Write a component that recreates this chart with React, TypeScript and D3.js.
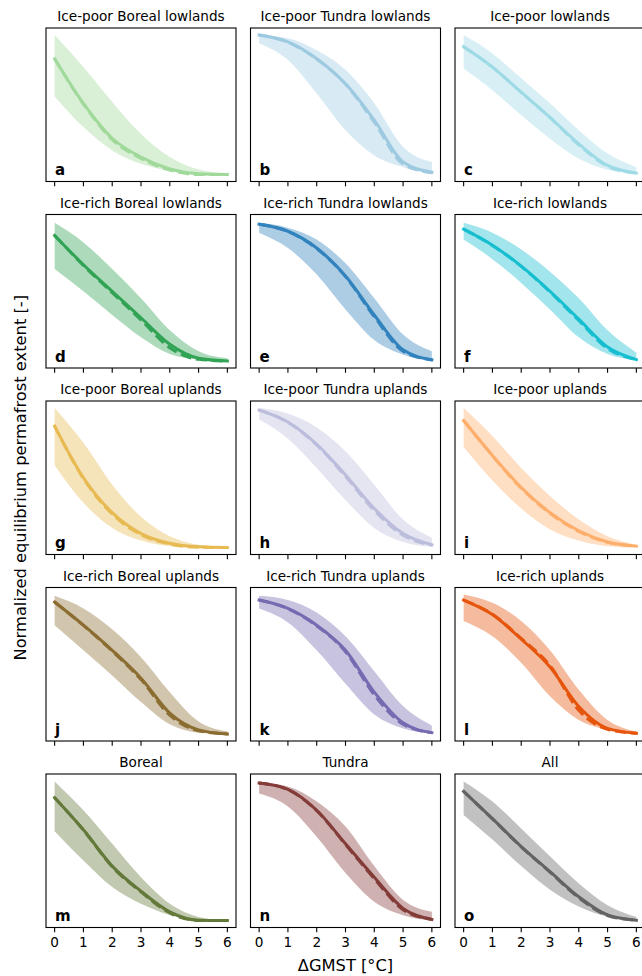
import React from "react";
import * as d3 from "d3";

const titles = [
  "Ice-poor Boreal lowlands", "Ice-poor Tundra lowlands", "Ice-poor lowlands",
  "Ice-rich Boreal lowlands", "Ice-rich Tundra lowlands", "Ice-rich lowlands",
  "Ice-poor Boreal uplands", "Ice-poor Tundra uplands", "Ice-poor uplands",
  "Ice-rich Boreal uplands", "Ice-rich Tundra uplands", "Ice-rich uplands",
  "Boreal", "Tundra", "All",
];
const letters = ["a", "b", "c", "d", "e", "f", "g", "h", "i", "j", "k", "l", "m", "n", "o"];
const colors = [
  "#a1d99b", "#9ecae1", "#9edae5",
  "#31a354", "#3182bd", "#17becf",
  "#e7ba52", "#bcbddc", "#fdae6b",
  "#8c6d31", "#756bb1", "#e6550d",
  "#637939", "#843c39", "#636363",
];
const xValues = [0, 1, 2, 3, 4, 5, 6];
const xTicks = [0, 1, 2, 3, 4, 5, 6];

const meanValues = [
  [0.83, 0.51, 0.26, 0.125, 0.04, 0.005, 0.0],
  [1.0, 0.95, 0.83, 0.65, 0.39, 0.09, 0.017],
  [0.916, 0.77, 0.59, 0.41, 0.22, 0.065, 0.01],
  [0.9, 0.69, 0.5, 0.31, 0.12, 0.02, 0.0],
  [0.98, 0.93, 0.81, 0.61, 0.33, 0.08, 0.009],
  [0.945, 0.83, 0.68, 0.5, 0.3, 0.1, 0.01],
  [0.87, 0.5, 0.25, 0.1, 0.03, 0.005, 0.0],
  [0.985, 0.9, 0.74, 0.52, 0.28, 0.1, 0.02],
  [0.91, 0.66, 0.43, 0.25, 0.12, 0.04, 0.01],
  [0.946, 0.78, 0.6, 0.4, 0.15, 0.03, 0.0],
  [0.96, 0.9, 0.78, 0.6, 0.3, 0.08, 0.01],
  [0.96, 0.856, 0.68, 0.48, 0.197, 0.04, 0.005],
  [0.88, 0.65, 0.39, 0.21, 0.062, 0.002, 0.0],
  [0.985, 0.94, 0.79, 0.55, 0.31, 0.087, 0.008],
  [0.925, 0.73, 0.53, 0.35, 0.17, 0.04, 0.002],
];
const dashedValues = [
  [0.83, 0.505, 0.25, 0.115, 0.032, 0.0, 0.0],
  [1.0, 0.948, 0.828, 0.648, 0.375, 0.075, 0.013],
  [0.916, 0.77, 0.588, 0.408, 0.212, 0.06, 0.01],
  [0.9, 0.685, 0.49, 0.295, 0.095, 0.012, 0.0],
  [0.98, 0.928, 0.805, 0.605, 0.318, 0.07, 0.008],
  [0.945, 0.828, 0.678, 0.495, 0.29, 0.09, 0.01],
  [0.87, 0.495, 0.24, 0.092, 0.024, 0.002, 0.0],
  [0.985, 0.897, 0.735, 0.51, 0.265, 0.088, 0.017],
  [0.91, 0.658, 0.425, 0.245, 0.115, 0.037, 0.01],
  [0.946, 0.778, 0.595, 0.39, 0.135, 0.024, 0.0],
  [0.96, 0.898, 0.775, 0.59, 0.28, 0.07, 0.009],
  [0.96, 0.858, 0.685, 0.49, 0.17, 0.034, 0.005],
  [0.88, 0.648, 0.385, 0.205, 0.055, 0.001, 0.0],
  [0.985, 0.938, 0.787, 0.545, 0.3, 0.078, 0.008],
  [0.925, 0.728, 0.528, 0.347, 0.163, 0.036, 0.002],
];
const upperValues = [
  [1.0, 0.77, 0.52, 0.29, 0.125, 0.036, 0.01],
  [1.0, 0.976, 0.89, 0.75, 0.51, 0.197, 0.09],
  [1.0, 0.868, 0.69, 0.51, 0.317, 0.15, 0.053],
  [0.99, 0.85, 0.66, 0.45, 0.22, 0.07, 0.02],
  [0.99, 0.955, 0.87, 0.7, 0.45, 0.19, 0.07],
  [0.99, 0.92, 0.8, 0.64, 0.45, 0.22, 0.06],
  [1.0, 0.75, 0.45, 0.22, 0.08, 0.02, 0.005],
  [1.0, 0.96, 0.86, 0.69, 0.45, 0.2, 0.07],
  [1.0, 0.8, 0.57, 0.37, 0.2, 0.08, 0.02],
  [0.99, 0.9, 0.75, 0.55, 0.3, 0.09, 0.02],
  [0.99, 0.96, 0.87, 0.7, 0.45, 0.2, 0.06],
  [1.0, 0.94, 0.81, 0.6, 0.317, 0.1, 0.017],
  [0.997, 0.79, 0.55, 0.31, 0.12, 0.026, 0.0],
  [0.99, 0.96, 0.853, 0.673, 0.39, 0.147, 0.062],
  [0.997, 0.853, 0.66, 0.46, 0.266, 0.11, 0.026],
];
const lowerValues = [
  [0.56, 0.34, 0.173, 0.077, 0.024, 0.0, 0.0],
  [0.94, 0.82, 0.58, 0.317, 0.137, 0.053, 0.005],
  [0.76, 0.604, 0.425, 0.257, 0.113, 0.034, 0.005],
  [0.66, 0.5, 0.33, 0.17, 0.05, 0.01, 0.0],
  [0.92, 0.81, 0.62, 0.37, 0.15, 0.045, 0.0],
  [0.87, 0.73, 0.56, 0.37, 0.17, 0.05, 0.005],
  [0.59, 0.32, 0.14, 0.05, 0.01, 0.0, 0.0],
  [0.92, 0.78, 0.57, 0.34, 0.14, 0.04, 0.005],
  [0.72, 0.48, 0.28, 0.13, 0.05, 0.01, 0.0],
  [0.78, 0.6, 0.42, 0.23, 0.07, 0.01, 0.0],
  [0.9, 0.8, 0.6, 0.36, 0.14, 0.04, 0.005],
  [0.81, 0.7, 0.51, 0.27, 0.1, 0.03, 0.0],
  [0.64, 0.43, 0.24, 0.12, 0.04, 0.0, 0.0],
  [0.91, 0.817, 0.6, 0.34, 0.134, 0.038, 0.0],
  [0.757, 0.58, 0.39, 0.22, 0.1, 0.026, 0.0],
];

const W = 642;
const H = 976;
const colLefts = [46, 250.5, 455];
const rowTop0 = 28;
const rowStep = 186.5;
const PW = 190;
const PH = 153.5;
const FONT = "DejaVu Sans, Verdana, sans-serif";

function Panel({ idx }: { idx: number }) {
  const r = Math.floor(idx / 3);
  const c = idx % 3;
  const left = colLefts[c];
  const top = rowTop0 + r * rowStep;
  const bottom = top + PH;
  const x = d3.scaleLinear().domain([-0.3, 6.3]).range([left, left + PW]);
  const y = d3.scaleLinear().domain([-0.05, 1.05]).range([bottom, top]);
  const color = colors[idx];
  const area = d3
    .area<number>()
    .x((_, i) => x(xValues[i]))
    .y0((_, i) => y(lowerValues[idx][i]))
    .y1((_, i) => y(upperValues[idx][i]))
    .curve(d3.curveMonotoneX);
  const line = d3
    .line<number>()
    .x((_, i) => x(xValues[i]))
    .y((d) => y(d))
    .curve(d3.curveMonotoneX);
  const isBottom = r === 4;
  return (
    <g>
      <text x={left + PW / 2} y={top - 7} textAnchor="middle" fontSize={13.6} fontFamily={FONT} fill="#000">
        {titles[idx]}
      </text>
      <path d={area(xValues) || ""} fill={color} fillOpacity={0.4} stroke="none" />
      <path d={line(meanValues[idx]) || ""} fill="none" stroke={color} strokeWidth={3} strokeLinecap="square" />
      <path d={line(dashedValues[idx]) || ""} fill="none" stroke={color} strokeWidth={3} strokeDasharray="11,4.8" />
      <rect x={left} y={top} width={PW} height={PH} fill="none" stroke="#000" strokeWidth={1.1} />
      {xTicks.map((t) => (
        <g key={t}>
          <line x1={x(t)} x2={x(t)} y1={bottom} y2={bottom + 4.8} stroke="#000" strokeWidth={1.1} />
          {isBottom && (
            <text x={x(t)} y={bottom + 19} textAnchor="middle" fontSize={13.6} fontFamily={FONT} fill="#000">
              {t}
            </text>
          )}
        </g>
      ))}
      <text x={left + 9} y={bottom - 6.5} fontSize={15} fontWeight="bold" fontFamily={FONT} fill="#000">
        {letters[idx]}
      </text>
    </g>
  );
}

export default function App() {
  const midY = (rowTop0 + rowTop0 + 4 * rowStep + PH) / 2;
  return (
    <svg width={W} height={H} style={{ position: "absolute", left: 0, top: 0, background: "#fff" }}>
      <rect x={0} y={0} width={W} height={H} fill="#fff" />
      {titles.map((_, i) => (
        <Panel key={i} idx={i} />
      ))}
      <text x={colLefts[1] + PW / 2} y={970.5} textAnchor="middle" fontSize={16.3} fontFamily={FONT} fill="#000">
        ΔGMST [°C]
      </text>
      <text
        transform={`translate(26,${midY}) rotate(-90)`}
        textAnchor="middle"
        fontSize={16.3}
        fontFamily={FONT}
        fill="#000"
      >
        Normalized equilibrium permafrost extent [-]
      </text>
    </svg>
  );
}
